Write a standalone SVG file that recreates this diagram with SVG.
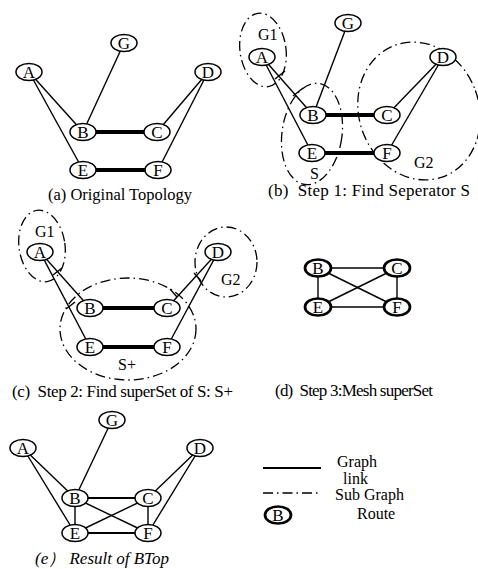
<svg xmlns="http://www.w3.org/2000/svg" width="478" height="569" viewBox="0 0 478 569">
<style>
text{font-family:"Liberation Serif","Times New Roman",serif;fill:#000}
.nt{font-size:17px;text-anchor:middle;dominant-baseline:central}
.cap{font-size:17px}
.lb{font-size:16px}
.e{stroke:#000;stroke-width:1.4;fill:none}
.t{stroke:#000;stroke-width:4;fill:none}
.m{stroke:#000;stroke-width:2;fill:none}
.sg{fill:none;stroke:#000;stroke-width:1.3;stroke-dasharray:10 4 1.5 4}
.nd{fill:#fff;stroke:#000;stroke-width:1.5}
.ndb{fill:#fff;stroke:#000;stroke-width:2.7}
</style>
<rect width="478" height="569" fill="#fff"/>
<defs>
<ellipse id="nd" cx="0" cy="0" rx="13" ry="8.5"/>
</defs>

<g id="connectors">
 <!-- (a) -->
 <line class="e" x1="29" y1="72" x2="83" y2="132"/>
 <line class="e" x1="29" y1="72" x2="83" y2="170"/>
 <line class="e" x1="124" y1="43" x2="83" y2="132"/>
 <line class="e" x1="208" y1="72" x2="157" y2="132"/>
 <line class="e" x1="208" y1="72" x2="158" y2="170"/>
 <line class="t" x1="83" y1="132" x2="157" y2="132"/>
 <line class="t" x1="83" y1="170" x2="158" y2="170"/>
 <!-- (b) -->
 <line class="e" x1="262" y1="57" x2="313" y2="115"/>
 <line class="e" x1="262" y1="57" x2="312" y2="153"/>
 <line class="e" x1="348" y1="23" x2="313" y2="115"/>
 <line class="e" x1="443" y1="57" x2="387" y2="115"/>
 <line class="e" x1="443" y1="57" x2="387" y2="153"/>
 <line class="t" x1="313" y1="115" x2="387" y2="115"/>
 <line class="t" x1="312" y1="153" x2="387" y2="153"/>
 <line class="e" x1="275" y1="79" x2="285" y2="71"/>
 <line class="e" x1="293" y1="96" x2="303" y2="88"/>
 <!-- (c) -->
 <line class="e" x1="40" y1="252" x2="90" y2="308"/>
 <line class="e" x1="40" y1="252" x2="90" y2="347"/>
 <line class="e" x1="218" y1="252" x2="167" y2="308"/>
 <line class="e" x1="218" y1="252" x2="167" y2="347"/>
 <line class="t" x1="90" y1="308" x2="167" y2="308"/>
 <line class="t" x1="90" y1="347" x2="167" y2="347"/>
 <line class="e" x1="53" y1="275" x2="62" y2="268"/>
 <line class="e" x1="66" y1="309" x2="75" y2="302"/>
 <line class="e" x1="194" y1="273" x2="201" y2="281"/>
 <line class="e" x1="170" y1="289" x2="177" y2="297"/>
 <!-- (d) -->
 <line class="e" x1="318" y1="268" x2="397" y2="268"/>
 <line class="e" x1="318" y1="307" x2="397" y2="307"/>
 <line class="e" x1="318" y1="268" x2="318" y2="307"/>
 <line class="e" x1="397" y1="268" x2="397" y2="307"/>
 <line class="e" x1="318" y1="268" x2="397" y2="307"/>
 <line class="e" x1="397" y1="268" x2="318" y2="307"/>
 <!-- (e) -->
 <line class="e" x1="23" y1="448" x2="75" y2="498"/>
 <line class="e" x1="23" y1="448" x2="75" y2="533"/>
 <line class="e" x1="112" y1="420" x2="75" y2="498"/>
 <line class="e" x1="200" y1="448" x2="148" y2="498"/>
 <line class="e" x1="200" y1="448" x2="148" y2="533"/>
 <line class="m" x1="75" y1="498" x2="148" y2="498"/>
 <line class="m" x1="75" y1="533" x2="148" y2="533"/>
 <line class="e" x1="75" y1="498" x2="75" y2="533"/>
 <line class="e" x1="148" y1="498" x2="148" y2="533"/>
 <line class="e" x1="75" y1="498" x2="148" y2="533"/>
 <line class="e" x1="148" y1="498" x2="75" y2="533"/>
</g>

<g id="subgraphs">
 <ellipse class="sg" cx="263" cy="50" rx="23" ry="37" transform="rotate(-8 263 50)"/>
 <ellipse class="sg" cx="312" cy="134" rx="30" ry="51" transform="rotate(8 312 134)"/>
 <ellipse class="sg" cx="419" cy="111" rx="60" ry="70" transform="rotate(-20 419 111)"/>
 <ellipse class="sg" cx="42" cy="246" rx="23" ry="36" transform="rotate(-8 42 246)"/>
 <ellipse class="sg" cx="226" cy="262" rx="31" ry="35"/>
 <ellipse class="sg" cx="128" cy="329" rx="68" ry="51"/>
</g>

<!-- (a) -->
<g id="a-A"><use href="#nd" x="29" y="72" class="nd"/><text class="nt" x="29" y="72">A</text></g>
<g id="a-G"><use href="#nd" x="124" y="43" class="nd"/><text class="nt" x="124" y="43">G</text></g>
<g id="a-D"><use href="#nd" x="208" y="72" class="nd"/><text class="nt" x="208" y="72">D</text></g>
<g id="a-B"><use href="#nd" x="83" y="132" class="nd"/><text class="nt" x="83" y="132">B</text></g>
<g id="a-C"><use href="#nd" x="157" y="132" class="nd"/><text class="nt" x="157" y="132">C</text></g>
<g id="a-E"><use href="#nd" x="83" y="170" class="nd"/><text class="nt" x="83" y="170">E</text></g>
<g id="a-F"><use href="#nd" x="158" y="170" class="nd"/><text class="nt" x="158" y="170">F</text></g>
<text class="cap" x="48" y="200" textLength="144" lengthAdjust="spacingAndGlyphs">(a) Original Topology</text>

<!-- (b) -->
<g id="b-A"><use href="#nd" x="262" y="57" class="nd"/><text class="nt" x="262" y="57">A</text></g>
<g id="b-G"><use href="#nd" x="348" y="23" class="nd"/><text class="nt" x="348" y="23">G</text></g>
<g id="b-D"><use href="#nd" x="443" y="57" class="nd"/><text class="nt" x="443" y="57">D</text></g>
<g id="b-B"><use href="#nd" x="313" y="115" class="nd"/><text class="nt" x="313" y="115">B</text></g>
<g id="b-C"><use href="#nd" x="387" y="115" class="nd"/><text class="nt" x="387" y="115">C</text></g>
<g id="b-E"><use href="#nd" x="312" y="153" class="nd"/><text class="nt" x="312" y="153">E</text></g>
<g id="b-F"><use href="#nd" x="387" y="153" class="nd"/><text class="nt" x="387" y="153">F</text></g>
<text class="lb" x="258" y="40">G1</text>
<text class="lb" x="310" y="179">S</text>
<text class="lb" x="414" y="168">G2</text>
<text class="cap" x="268" y="196" textLength="202" lengthAdjust="spacing" xml:space="preserve">(b)  Step 1: Find Seperator S</text>

<!-- (c) -->
<g id="c-A"><use href="#nd" x="40" y="252" class="nd"/><text class="nt" x="40" y="252">A</text></g>
<g id="c-D"><use href="#nd" x="218" y="252" class="nd"/><text class="nt" x="218" y="252">D</text></g>
<g id="c-B"><use href="#nd" x="90" y="308" class="nd"/><text class="nt" x="90" y="308">B</text></g>
<g id="c-C"><use href="#nd" x="167" y="308" class="nd"/><text class="nt" x="167" y="308">C</text></g>
<g id="c-E"><use href="#nd" x="90" y="347" class="nd"/><text class="nt" x="90" y="347">E</text></g>
<g id="c-F"><use href="#nd" x="167" y="347" class="nd"/><text class="nt" x="167" y="347">F</text></g>
<text class="lb" x="35" y="237">G1</text>
<text class="lb" x="221" y="285">G2</text>
<text class="lb" x="118" y="370">S+</text>
<text class="cap" x="12" y="397" textLength="221" lengthAdjust="spacing" xml:space="preserve">(c)  Step 2: Find superSet of S: S+</text>

<!-- (d) -->
<g id="d-B"><use href="#nd" x="318" y="268" class="ndb"/><text class="nt" x="318" y="268">B</text></g>
<g id="d-C"><use href="#nd" x="397" y="268" class="ndb"/><text class="nt" x="397" y="268">C</text></g>
<g id="d-E"><use href="#nd" x="318" y="307" class="ndb"/><text class="nt" x="318" y="307">E</text></g>
<g id="d-F"><use href="#nd" x="397" y="307" class="ndb"/><text class="nt" x="397" y="307">F</text></g>
<text class="cap" x="275" y="396" textLength="158" lengthAdjust="spacing" xml:space="preserve">(d)  Step 3:Mesh superSet</text>

<!-- (e) -->
<g id="e-A"><use href="#nd" x="23" y="448" class="nd"/><text class="nt" x="23" y="448">A</text></g>
<g id="e-G"><use href="#nd" x="112" y="420" class="nd"/><text class="nt" x="112" y="420">G</text></g>
<g id="e-D"><use href="#nd" x="200" y="448" class="nd"/><text class="nt" x="200" y="448">D</text></g>
<g id="e-B"><use href="#nd" x="75" y="498" class="nd"/><text class="nt" x="75" y="498">B</text></g>
<g id="e-C"><use href="#nd" x="148" y="498" class="nd"/><text class="nt" x="148" y="498">C</text></g>
<g id="e-E"><use href="#nd" x="75" y="533" class="nd"/><text class="nt" x="75" y="533">E</text></g>
<g id="e-F"><use href="#nd" x="148" y="533" class="nd"/><text class="nt" x="148" y="533">F</text></g>
<text class="cap" x="35" y="564" font-style="italic">(e） Result of BTop</text>

<g id="legend">
 <line x1="263" y1="468" x2="321" y2="468" stroke="#000" stroke-width="2"/>
 <text class="lb" x="337" y="467">Graph</text>
 <text class="lb" x="343" y="484">link</text>
 <line class="sg" x1="263" y1="493" x2="318" y2="493"/>
 <text class="lb" x="335" y="500">Sub Graph</text>
 <use href="#nd" x="278" y="515" class="ndb"/>
 <text class="nt" x="278" y="515">B</text>
 <text class="lb" x="357" y="519">Route</text>
</g>
</svg>
